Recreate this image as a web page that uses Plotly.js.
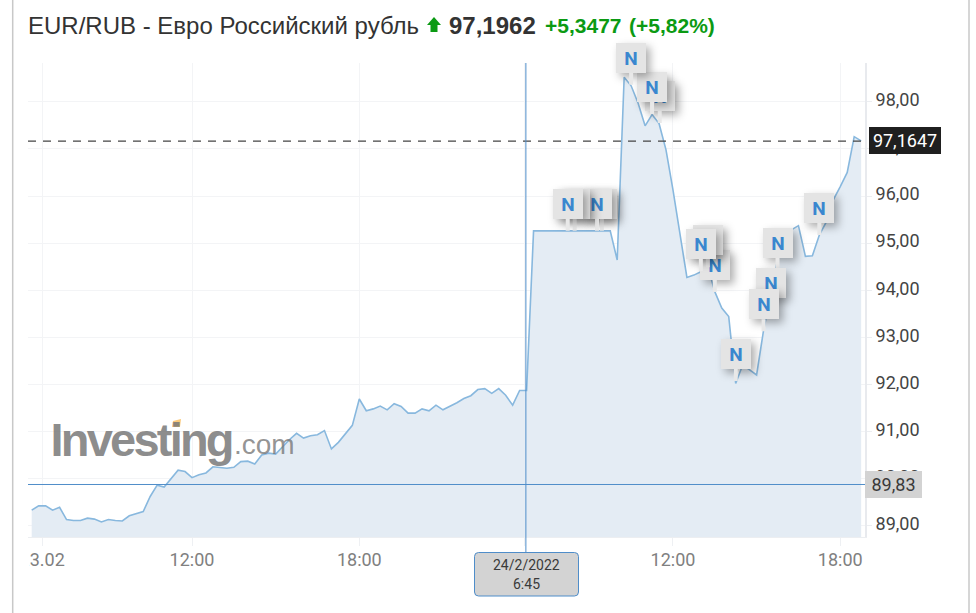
<!DOCTYPE html>
<html>
<head>
<meta charset="utf-8">
<script src="https://cdn.plot.ly/plotly-3.0.0.min.js"></script>
<style>
html,body{margin:0;padding:0;background:#fff;overflow:hidden}
#chart{width:976px;height:613px}
</style>
</head>
<body>
<div id="chart"></div>
<script>
// EUR/RUB, 15-minute closes (23.02 06:15 onward, closed market gap collapsed)
const eurRub = [
 89.33,89.42,89.42,89.33,89.39,89.13,89.11,89.11,89.16,89.14,
 89.08,89.13,89.11,89.10,89.21,89.25,89.30,89.62,89.86,89.82,
 90.00,90.18,90.15,90.02,90.08,90.12,90.25,90.23,90.22,90.24,
 90.36,90.37,90.31,90.50,90.54,90.52,90.68,90.83,90.96,90.86,
 90.91,90.93,91.02,90.63,90.77,90.95,91.13,91.69,91.44,91.48,
 91.54,91.46,91.59,91.53,91.39,91.39,91.48,91.44,91.56,91.46,
 91.53,91.61,91.70,91.76,91.89,91.91,91.81,91.91,91.77,91.56,
 91.87,91.87,95.26,95.26,95.26,95.26,95.26,95.26,95.26,95.26,
 95.26,95.26,95.26,95.26,94.64,98.52,98.34,97.97,97.49,97.73,
 97.54,96.98,96.13,95.21,94.27,94.32,94.39,94.50,93.97,93.62,
 93.44,92.02,92.41,92.31,92.20,93.15,93.86,94.64,95.07,95.28,
 95.37,94.72,94.73,95.17,95.45,95.92,96.20,96.50,97.26,97.17
];
const pointIndex = eurRub.map((_, i) => i);

const xTickPositions = [1.5, 23, 47, 70.7, 92, 116];
const xTickLabels = ['23.02', '12:00', '18:00', '24.02', '12:00', '18:00'];
const yTickValues = [89, 90, 91, 92, 93, 94, 95, 96, 97, 98];

const lastPrice = 97.1647;
const lastPriceLabel = '97,1647';
const crossIndex = 70.9;
const crossValue = 89.875;
const crossValueLabel = '89,83';
const crossDateLabel = '24/2/2022';
const crossTimeLabel = '6:45';

// news flags: where each stem touches the chart (drawn back to front)
const flagIndex = [81.8,81.1,77.9,76.9,90.1,89,86,98,97,96,107,106,105,101,113];
const flagValue = [95.26,95.26,95.26,95.26,97.55,97.74,98.36,93.96,94.49,94.41,94.43,93.58,93.13,92.07,95.17];

const titleText = 'EUR/RUB - Евро Российский рубль';
const priceText = '97,1962';
const changeText = '+5,3477';
const changePctText = '(+5,82%)';

const W = 976, H = 613, L = 28, R = 865, T = 63, B = 537;
const px = x => (x - L) / (R - L);
const py = y => 1 - (y - T) / (B - T);
const paperRect = (x0, y0, x1, y1, fill, line) => ({
  type: 'rect', xref: 'paper', yref: 'paper', x0: px(x0), x1: px(x1), y0: py(y0), y1: py(y1),
  fillcolor: fill, line: line || {width: 0}, layer: 'above'
});
const roundBox = (x0, y0, x1, y1, r) => {
  const P = (x, y) => px(x) + ',' + py(y);
  return 'M' + P(x0 + r, y0) + ' L' + P(x1 - r, y0) + ' Q' + P(x1, y0) + ' ' + P(x1, y0 + r) +
    ' L' + P(x1, y1 - r) + ' Q' + P(x1, y1) + ' ' + P(x1 - r, y1) +
    ' L' + P(x0 + r, y1) + ' Q' + P(x0, y1) + ' ' + P(x0, y1 - r) +
    ' L' + P(x0, y0 + r) + ' Q' + P(x0, y0) + ' ' + P(x0 + r, y0) + ' Z';
};
const polyPath = pts => 'M' + pts.map(p => px(p[0]) + ',' + py(p[1])).join(' L') + ' Z';
const textNote = (text, x, y, size, color, anchor, extra) => Object.assign({
  text: text, xref: 'paper', yref: 'paper', x: px(x), y: py(y), xanchor: anchor || 'left', yanchor: 'middle',
  showarrow: false, font: {family: 'Liberation Sans, Arial, sans-serif', size: size, color: color}
}, extra || {});

const shapes = [
  {type: 'line', xref: 'paper', yref: 'y', x0: 0, x1: 1, y0: crossValue, y1: crossValue,
   line: {color: '#4f8dc9', width: 1}, layer: 'above'},
  {type: 'line', xref: 'paper', yref: 'y', x0: 0, x1: 1, y0: lastPrice, y1: lastPrice,
   line: {color: '#444444', width: 1.4, dash: '8px,7px'}, layer: 'above'},
  {type: 'line', xref: 'x', yref: 'paper', x0: crossIndex, x1: crossIndex, y0: py(553), y1: 1,
   line: {color: '#4f8dc9', width: 1}, layer: 'above'},
  paperRect(0, 540, 29.5, 580, '#ffffff'),
  {type: 'path', xref: 'paper', yref: 'paper', path: roundBox(474.5, 552.5, 578.5, 596, 4),
   fillcolor: '#d3d3d3', line: {color: '#4f8dc9', width: 1}, layer: 'above'},
  {type: 'line', xref: 'paper', yref: 'paper', x0: px(12.7), x1: px(12.7), y0: py(0), y1: py(613),
   line: {color: '#c8c8c8', width: 1.5}, layer: 'above'},
  {type: 'line', xref: 'paper', yref: 'paper', x0: px(969), x1: px(969), y0: py(0), y1: py(613),
   line: {color: '#c8c8c8', width: 1.5}, layer: 'above'},
  {type: 'path', xref: 'paper', yref: 'paper',
   path: polyPath([[434, 17], [441, 25], [437.5, 25], [437.5, 32], [430.5, 32], [430.5, 25], [427, 25]]),
   fillcolor: '#0b9a13', line: {width: 0}, layer: 'above'},
  {type: 'path', xref: 'paper', yref: 'paper',
   path: polyPath([[173, 421], [181, 419], [180, 427], [172, 427]]),
   fillcolor: '#fbc97a', line: {width: 0}, layer: 'above'}
];

const flagNotes = flagIndex.map((ix, k) => ({
  x: ix, y: flagValue[k], xref: 'x', yref: 'y', text: '<b>N</b>',
  showarrow: true, arrowhead: 0, arrowwidth: 4, arrowcolor: '#e8e8e8', standoff: 0,
  ax: 0, ay: -27, width: 30, height: 30, borderpad: 0, borderwidth: 0,
  bgcolor: '#e4e4e4', align: 'center', valign: 'middle',
  font: {family: 'Roboto, sans-serif', size: 19, color: '#3a87cf'}
}));

const annotations = [
  textNote('<b>Investing</b>', 36, 439, 47, 'rgba(120,120,120,0.85)'),
  textNote('.com', 232, 444, 28, 'rgba(120,120,120,0.8)'),
  textNote('<b>' + priceText + '</b>', 447, 26, 24, '#333333'),
  textNote('<b>' + changeText + '</b>', 543, 26, 21, '#0b9a13'),
  textNote('<b>' + changePctText + '</b>', 627, 26, 21, '#0b9a13'),
  ...flagNotes,
  textNote(lastPriceLabel, 905, 140.5, 18, '#ffffff', 'center',
    {bgcolor: '#1f1f1f', width: 72, height: 27, borderpad: 0, borderwidth: 0,
     font: {family: 'Roboto, sans-serif', size: 18, color: '#ffffff'}}),
  textNote(crossValueLabel, 893.5, 484.5, 18, '#333333', 'center',
    {bgcolor: '#d3d3d3', width: 57, height: 27, borderpad: 0, borderwidth: 0,
     font: {family: 'Roboto, sans-serif', size: 18, color: '#3a3a3a'}}),
  textNote(crossDateLabel, 526.5, 564.5, 14, '#3a3a3a', 'center',
    {font: {family: 'Roboto, sans-serif', size: 14, color: '#3a3a3a'}}),
  textNote(crossTimeLabel, 526.5, 584, 14, '#3a3a3a', 'center',
    {font: {family: 'Roboto, sans-serif', size: 14, color: '#3a3a3a'}})
];

const trace = {
  type: 'scatter', mode: 'lines', x: pointIndex, y: eurRub, name: 'EUR/RUB',
  line: {color: '#88b8de', width: 1.6, shape: 'linear'},
  fill: 'tozeroy', fillcolor: '#e4ecf4', hoverinfo: 'skip'
};

const layout = {
  width: W, height: H, showlegend: false, separators: ', ',
  paper_bgcolor: '#ffffff', plot_bgcolor: '#ffffff',
  margin: {l: L, r: W - R, t: T, b: H - B, pad: 0},
  title: {text: titleText, xref: 'container', yref: 'container', x: 28 / W, xanchor: 'left',
          y: 1 - 26 / H, yanchor: 'middle',
          font: {family: 'Liberation Sans, Arial, sans-serif', size: 24, color: '#333333'}},
  xaxis: {
    range: [-0.53, 119.55], tickmode: 'array', tickvals: xTickPositions, ticktext: xTickLabels,
    showgrid: true, gridcolor: '#f3f4f6', gridwidth: 1, zeroline: false,
    ticks: 'outside', ticklen: 8, tickcolor: '#eef0f3', tickwidth: 1,
    showline: true, linecolor: '#eceef1', linewidth: 1,
    tickfont: {family: 'Roboto, sans-serif', size: 18, color: '#808080'}, tickangle: 0
  },
  yaxis: {
    side: 'right', range: [88.76, 98.824], tickmode: 'array', tickvals: yTickValues,
    tickformat: '.2f', showgrid: true, gridcolor: '#f3f4f6', gridwidth: 1, zeroline: false,
    ticks: 'outside', ticklen: 5, tickcolor: '#eceef1', tickwidth: 1,
    showline: true, linecolor: '#e8eaee', linewidth: 2,
    tickfont: {family: 'Roboto, sans-serif', size: 18, color: '#444444'}
  },
  shapes: shapes, annotations: annotations
};

Plotly.newPlot('chart', [trace], layout, {displayModeBar: false, staticPlot: true}).then(() => {
  // soft shadow under the news flags, tighter logo lettering, small tick label nudges
  document.querySelectorAll('.annotation').forEach(g => {
    const t = g.querySelector('.annotation-text');
    const bg = g.querySelector('rect.bg');
    if (!t) return;
    if (t.textContent === 'N' && bg) bg.style.filter = 'drop-shadow(4px 4px 4px rgba(0,0,0,0.32))';
    if (t.textContent === 'Investing') t.style.letterSpacing = '-2.8px';
  });
  document.querySelectorAll('.ytick text').forEach(t => t.setAttribute('dy', '-2'));
  document.querySelectorAll('.xtick text').forEach(t => t.setAttribute('dy', '-2'));
});
</script>
</body>
</html>
